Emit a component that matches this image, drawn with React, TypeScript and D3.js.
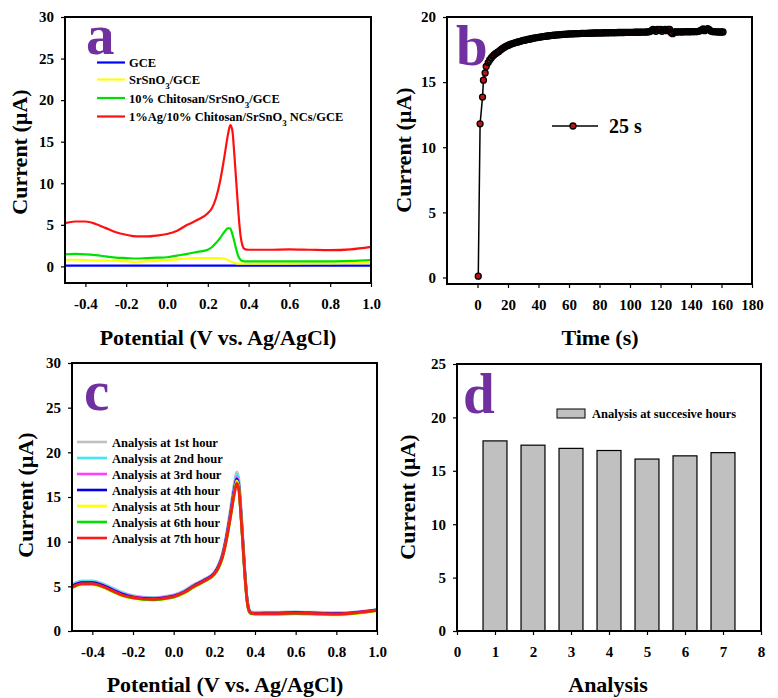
import React, { useEffect, useRef } from "react";
import * as d3 from "d3";

// potential axis shared by panels a and c (V vs Ag/AgCl)
const potential = [
  -0.5, -0.45, -0.4, -0.35, -0.3, -0.25, -0.2, -0.15, -0.1, -0.05, 0.0, 0.05, 0.1, 0.15, 0.2, 0.22, 0.24, 0.26,
  0.28, 0.3, 0.31, 0.32, 0.33, 0.34, 0.35, 0.36, 0.37, 0.38, 0.4, 0.45, 0.5, 0.6, 0.7, 0.8, 0.9, 1.0,
];

// panel a: electrode comparison
const gceCurrent = [
  0.1, 0.1, 0.1, 0.1, 0.1, 0.1, 0.1, 0.1, 0.1, 0.1, 0.1, 0.1, 0.1, 0.1, 0.1, 0.1, 0.1, 0.1,
  0.1, 0.1, 0.1, 0.1, 0.1, 0.1, 0.1, 0.1, 0.1, 0.1, 0.1, 0.1, 0.1, 0.1, 0.1, 0.1, 0.1, 0.1,
];
const srsno3Current = [
  0.8, 0.8, 0.75, 0.7, 0.7, 0.65, 0.6, 0.55, 0.6, 0.65, 0.75, 0.85, 0.95, 1.0, 1.0, 1.0, 1.0, 1.0,
  0.95, 0.75, 0.6, 0.5, 0.42, 0.36, 0.33, 0.32, 0.32, 0.32, 0.32, 0.33, 0.33, 0.34, 0.35, 0.36, 0.38, 0.4,
];
const chitosanCurrent = [
  1.45, 1.5, 1.45, 1.35, 1.2, 1.05, 1.0, 0.95, 1.0, 1.05, 1.1, 1.3, 1.5, 1.75, 2.0, 2.3, 2.8, 3.4,
  4.1, 4.6, 4.55, 3.9, 3.0, 2.0, 1.2, 0.8, 0.65, 0.6, 0.6, 0.6, 0.6, 0.6, 0.6, 0.6, 0.65, 0.75,
];
const agCurrent = [
  5.2, 5.4, 5.4, 5.1, 4.6, 4.1, 3.8, 3.6, 3.6, 3.7, 3.9, 4.3, 5.0, 5.6, 6.4, 7.0, 8.2, 10.2,
  13.0, 16.0, 17.0, 16.4, 13.5, 10.0, 6.5, 3.8, 2.5, 2.1, 2.0, 2.0, 2.0, 2.05, 2.0, 1.95, 2.05, 2.35,
];
const electrodeLabels = ["GCE", "SrSnO3/GCE", "10% Chitosan/SrSnO3/GCE", "1%Ag/10% Chitosan/SrSnO3 NCs/GCE"];
const electrodeColors = ["#0000ff", "#ffff00", "#00e000", "#ff1010"];

// panel c: repeated analysis every hour
const hour1 = [
  5.2, 5.6, 5.6, 5.3, 4.8, 4.3, 3.95, 3.8, 3.75, 3.85, 4.05, 4.5, 5.2, 5.8, 6.6, 7.4, 8.7, 10.9,
  13.8, 16.8, 17.8, 17.1, 14.2, 10.5, 6.8, 3.9, 2.5, 2.15, 2.1, 2.1, 2.1, 2.15, 2.1, 2.05, 2.15, 2.4,
];
const hour2 = [
  5.15, 5.55, 5.55, 5.25, 4.75, 4.25, 3.9, 3.75, 3.7, 3.8, 4.0, 4.45, 5.15, 5.75, 6.55, 7.3, 8.6, 10.7,
  13.5, 16.5, 17.5, 16.8, 14.0, 10.3, 6.7, 3.8, 2.45, 2.1, 2.05, 2.05, 2.05, 2.1, 2.05, 2.0, 2.1, 2.4,
];
const hour3 = [
  5.05, 5.45, 5.45, 5.15, 4.65, 4.15, 3.85, 3.7, 3.65, 3.75, 3.95, 4.4, 5.1, 5.7, 6.5, 7.25, 8.5, 10.6,
  13.3, 16.2, 17.2, 16.5, 13.7, 10.1, 6.6, 3.75, 2.4, 2.05, 2.0, 2.0, 2.0, 2.05, 2.0, 1.95, 2.1, 2.35,
];
const hour4 = [
  5.0, 5.4, 5.4, 5.1, 4.6, 4.1, 3.8, 3.65, 3.6, 3.7, 3.9, 4.35, 5.05, 5.65, 6.45, 7.2, 8.4, 10.5,
  13.1, 16.0, 17.0, 16.3, 13.5, 10.0, 6.5, 3.7, 2.35, 2.0, 1.95, 2.0, 2.0, 2.05, 2.0, 1.95, 2.05, 2.35,
];
const hour5 = [
  4.85, 5.2, 5.2, 4.9, 4.4, 3.9, 3.65, 3.5, 3.45, 3.55, 3.75, 4.2, 4.9, 5.5, 6.3, 7.0, 8.2, 10.2,
  12.8, 15.7, 16.8, 16.1, 13.3, 9.8, 6.3, 3.55, 2.2, 1.9, 1.85, 1.85, 1.85, 1.9, 1.85, 1.8, 1.95, 2.25,
];
const hour6 = [
  4.85, 5.25, 5.25, 4.95, 4.45, 3.95, 3.7, 3.55, 3.5, 3.6, 3.8, 4.25, 4.95, 5.55, 6.35, 7.05, 8.25, 10.25,
  12.85, 15.6, 16.6, 16.0, 13.2, 9.8, 6.3, 3.6, 2.25, 1.95, 1.9, 1.9, 1.9, 1.95, 1.9, 1.85, 2.0, 2.3,
];
const hour7 = [
  4.9, 5.3, 5.3, 5.0, 4.5, 4.0, 3.75, 3.6, 3.55, 3.65, 3.85, 4.3, 5.0, 5.6, 6.4, 7.1, 8.3, 10.3,
  12.9, 15.6, 16.5, 15.9, 13.2, 9.8, 6.3, 3.6, 2.3, 2.0, 1.95, 1.95, 1.95, 2.0, 1.95, 1.9, 2.05, 2.3,
];
const hourLabels = [
  "Analysis at 1st hour",
  "Analysis at 2nd hour",
  "Analysis at 3rd hour",
  "Analysis at 4th hour",
  "Analysis at 5th hour",
  "Analysis at 6th hour",
  "Analysis at 7th hour",
];
const hourColors = ["#c0c0c0", "#40e8f0", "#ff40ff", "#0000e0", "#ffff00", "#00e000", "#ff1a1a"];

// panel b: current vs time, first points then one reading per second from 8 s
const earlyTime = [0.5, 1.7, 3.3, 3.9, 5.0, 5.7, 7.0];
const earlyCurrent = [0.1, 11.8, 13.85, 15.15, 15.7, 16.2, 16.5];
const steadyStart = 8;
const steadyCurrent = [
  16.7, 16.86, 17.0, 17.1, 17.2, 17.28, 17.36, 17.46, 17.55, 17.63,
  17.7, 17.76, 17.82, 17.87, 17.92, 17.96, 18.0, 18.04, 18.07, 18.1,
  18.13, 18.17, 18.2, 18.22, 18.25, 18.28, 18.3, 18.33, 18.35, 18.38,
  18.4, 18.42, 18.44, 18.46, 18.48, 18.5, 18.51, 18.53, 18.54, 18.56,
  18.57, 18.59, 18.6, 18.61, 18.62, 18.63, 18.64, 18.65, 18.66, 18.67,
  18.68, 18.69, 18.7, 18.7, 18.71, 18.71, 18.72, 18.72, 18.73, 18.73,
  18.74, 18.74, 18.75, 18.75, 18.75, 18.76, 18.76, 18.76, 18.77, 18.77,
  18.77, 18.78, 18.78, 18.78, 18.78, 18.79, 18.79, 18.79, 18.79, 18.8,
  18.8, 18.8, 18.8, 18.8, 18.81, 18.81, 18.81, 18.81, 18.81, 18.82,
  18.82, 18.82, 18.82, 18.82, 18.82, 18.83, 18.83, 18.83, 18.83, 18.84,
  18.84, 18.84, 18.84, 18.85, 18.86, 18.88, 18.95, 19.05, 19.0, 18.9,
  19.05, 19.0, 19.05, 18.9, 19.02, 19.05, 18.95, 19.05, 19.05, 18.8,
  18.72, 18.85, 18.86, 18.85, 18.86, 18.86, 18.85, 18.86, 18.87, 18.86,
  18.87, 18.86, 18.87, 18.87, 18.88, 18.87, 18.88, 18.9, 18.95, 19.0,
  19.08, 18.95, 19.05, 19.1, 19.02, 18.92, 18.88, 18.87, 18.86, 18.86,
  18.85, 18.85, 18.85, 18.85,
];
const timeLegend = "25 s";

// panel d: peak current of successive analyses
const analysisNo = [1, 2, 3, 4, 5, 6, 7];
const analysisCurrent = [17.8, 17.4, 17.1, 16.9, 16.1, 16.4, 16.7];
const barLegend = "Analysis at succesive hours";

const FONT = "'Liberation Serif', 'Times New Roman', serif";
const PURPLE = "#7030a0";
const DOT = "#c01010";

type Sel = d3.Selection<SVGSVGElement, unknown, null, undefined>;

// writes a label, turning "SrSnO3" into SrSnO with subscript 3
function subLabel(t: any, str: string) {
  const parts = str.split("SrSnO3");
  parts.forEach((p, i) => {
    if (p) t.append("tspan").text(p);
    if (i < parts.length - 1) {
      t.append("tspan").text("SrSnO");
      t.append("tspan").attr("baseline-shift", "sub").attr("font-size", 9).text("3");
    }
  });
}

function styleAxis(g: any) {
  g.select(".domain").remove();
  g.attr("font-family", null).attr("font-size", null);
  g.selectAll("text")
    .attr("font-family", FONT)
    .attr("font-size", 15)
    .attr("font-weight", "bold")
    .attr("fill", "#000");
  g.selectAll("line").attr("stroke", "#000").attr("stroke-width", 1.2);
}

function axesAndFrame(svg: Sel, x: any, y: any, xTicks: number[], yTicks: number[], xFmt: any) {
  const [x0, x1] = x.range();
  const [y0, y1] = y.range();
  svg.append("g")
    .attr("transform", `translate(0,${y0})`)
    .call(d3.axisBottom(x).tickValues(xTicks).tickSize(4).tickPadding(11).tickFormat(xFmt))
    .call(styleAxis);
  svg.append("g")
    .attr("transform", `translate(${x0},0)`)
    .call(d3.axisLeft(y).tickValues(yTicks).tickSize(4).tickPadding(7).tickFormat((d: any) => String(d)))
    .call(styleAxis);
  svg.append("rect")
    .attr("x", x0).attr("y", y1)
    .attr("width", x1 - x0).attr("height", y0 - y1)
    .attr("fill", "none").attr("stroke", "#000").attr("stroke-width", 2);
}

function titles(svg: Sel, xt: string, xx: number, xy: number, yx: number, yy: number, letter: string, lx: number, ly: number) {
  svg.append("text")
    .attr("x", xx).attr("y", xy)
    .attr("text-anchor", "middle")
    .attr("font-family", FONT).attr("font-size", 22).attr("font-weight", "bold")
    .text(xt);
  svg.append("text")
    .attr("transform", `translate(${yx},${yy}) rotate(-90)`)
    .attr("text-anchor", "middle")
    .attr("dy", "0.35em")
    .attr("font-family", FONT).attr("font-size", 22).attr("font-weight", "bold")
    .text("Current (µA)");
  svg.append("text")
    .attr("x", lx).attr("y", ly)
    .attr("font-family", FONT).attr("font-size", 57).attr("font-weight", "bold")
    .attr("fill", PURPLE)
    .text(letter);
}

export default function App() {
  const svgRef = useRef<SVGSVGElement>(null);

  useEffect(() => {
    const svg = d3.select(svgRef.current) as Sel;
    svg.selectAll("*").remove();
    const fmt1 = (d: any) => Number(d).toFixed(1);
    const potTicks = [-0.4, -0.2, 0.0, 0.2, 0.4, 0.6, 0.8, 1.0];

    //panel a
    const xa = d3.scaleLinear().domain([-0.5, 1.0]).range([65, 371]);
    const ya = d3.scaleLinear().domain([-2, 30]).range([283, 17]);
    const lineA = d3.line<number>()
      .x((d, i) => xa(potential[i]))
      .y((d) => ya(d))
      .curve(d3.curveMonotoneX);
    [gceCurrent, srsno3Current, chitosanCurrent, agCurrent].forEach((s, i) => {
      svg.append("path").datum(s)
        .attr("fill", "none").attr("stroke", electrodeColors[i]).attr("stroke-width", 2.2)
        .attr("d", lineA);
    });
    axesAndFrame(svg, xa, ya, potTicks, [0, 5, 10, 15, 20, 25, 30], fmt1);
    titles(svg, "Potential (V vs. Ag/AgCl)", 218, 345, 19, 152, "a", 86, 54);
    const rowsA = [62.5, 79.5, 98, 116.5];
    electrodeLabels.forEach((lab, i) => {
      svg.append("line")
        .attr("x1", 97).attr("x2", 125).attr("y1", rowsA[i]).attr("y2", rowsA[i])
        .attr("stroke", electrodeColors[i]).attr("stroke-width", 2.2);
      const t = svg.append("text")
        .attr("x", 129).attr("y", rowsA[i] + 4.5)
        .attr("font-family", FONT).attr("font-size", 12.5).attr("font-weight", "bold");
      subLabel(t, lab);
    });

    //panel b
    const xb = d3.scaleLinear().domain([-20, 180]).range([447, 752]);
    const yb = d3.scaleLinear().domain([-0.5, 20]).range([284, 17]);
    const pts: [number, number][] = earlyTime.map((t, i) => [t, earlyCurrent[i]] as [number, number])
      .concat(steadyCurrent.map((c, i) => [steadyStart + i, c] as [number, number]));
    svg.append("path").datum(pts)
      .attr("fill", "none").attr("stroke", "#000").attr("stroke-width", 1.5)
      .attr("d", d3.line().x((d) => xb(d[0])).y((d) => yb(d[1])));
    // fills first, then outlines, so the dense run reads as a dark band
    svg.append("g").selectAll("circle").data(pts).join("circle")
      .attr("cx", (d) => xb(d[0])).attr("cy", (d) => yb(d[1]))
      .attr("r", 3).attr("fill", DOT);
    svg.append("g").selectAll("circle").data(pts).join("circle")
      .attr("cx", (d) => xb(d[0])).attr("cy", (d) => yb(d[1]))
      .attr("r", 3).attr("fill", "none").attr("stroke", "#000").attr("stroke-width", 1.3);
    axesAndFrame(svg, xb, yb, d3.range(0, 181, 20), [0, 5, 10, 15, 20], (d: any) => String(d));
    titles(svg, "Time (s)", 600, 345, 403, 150, "b", 456, 65);
    svg.append("line").attr("x1", 552).attr("x2", 598).attr("y1", 126).attr("y2", 126)
      .attr("stroke", "#000").attr("stroke-width", 1.5);
    svg.append("circle").attr("cx", 573).attr("cy", 126).attr("r", 3)
      .attr("fill", DOT).attr("stroke", "#000").attr("stroke-width", 1.3);
    svg.append("text").attr("x", 609).attr("y", 133)
      .attr("font-family", FONT).attr("font-size", 20).attr("font-weight", "bold")
      .text(timeLegend);

    //panel c
    const xc = d3.scaleLinear().domain([-0.5, 1.0]).range([72, 377]);
    const yc = d3.scaleLinear().domain([0, 30]).range([631, 363]);
    const lineC = d3.line<number>()
      .x((d, i) => xc(potential[i]))
      .y((d) => yc(d))
      .curve(d3.curveMonotoneX);
    [hour1, hour2, hour3, hour4, hour5, hour6, hour7].forEach((s, i) => {
      svg.append("path").datum(s)
        .attr("fill", "none").attr("stroke", hourColors[i]).attr("stroke-width", 2.8)
        .attr("d", lineC);
    });
    axesAndFrame(svg, xc, yc, potTicks, [0, 5, 10, 15, 20, 25, 30], fmt1);
    titles(svg, "Potential (V vs. Ag/AgCl)", 225, 692, 25, 495, "c", 84, 410);
    hourLabels.forEach((lab, i) => {
      const yy = 442 + i * 16;
      svg.append("line")
        .attr("x1", 77).attr("x2", 107).attr("y1", yy).attr("y2", yy)
        .attr("stroke", hourColors[i]).attr("stroke-width", 2.6);
      svg.append("text")
        .attr("x", 112).attr("y", yy + 4.5)
        .attr("font-family", FONT).attr("font-size", 12.5).attr("font-weight", "bold")
        .text(lab);
    });

    //panel d
    const xd = d3.scaleLinear().domain([0, 8]).range([457, 761]);
    const yd = d3.scaleLinear().domain([0, 25]).range([631, 364]);
    const half = 0.315;
    svg.append("g").selectAll("rect").data(analysisNo).join("rect")
      .attr("x", (d) => xd(d - half))
      .attr("width", (d) => xd(d + half) - xd(d - half))
      .attr("y", (d, i) => yd(analysisCurrent[i]))
      .attr("height", (d, i) => yd(0) - yd(analysisCurrent[i]))
      .attr("fill", "#c0c0c0").attr("stroke", "#000").attr("stroke-width", 1.2);
    axesAndFrame(svg, xd, yd, d3.range(0, 9), [0, 5, 10, 15, 20, 25], (d: any) => String(d));
    titles(svg, "Analysis", 608, 692, 407, 497, "d", 463, 413);
    svg.append("rect").attr("x", 557).attr("y", 409).attr("width", 28).attr("height", 9)
      .attr("fill", "#c0c0c0").attr("stroke", "#000").attr("stroke-width", 1);
    svg.append("text").attr("x", 592).attr("y", 418)
      .attr("font-family", FONT).attr("font-size", 12.5).attr("font-weight", "bold")
      .text(barLegend);
  }, []);

  return (
    <svg
      ref={svgRef}
      width={778}
      height={698}
      style={{ position: "absolute", left: 0, top: 0, background: "#fff" }}
    ></svg>
  );
}
